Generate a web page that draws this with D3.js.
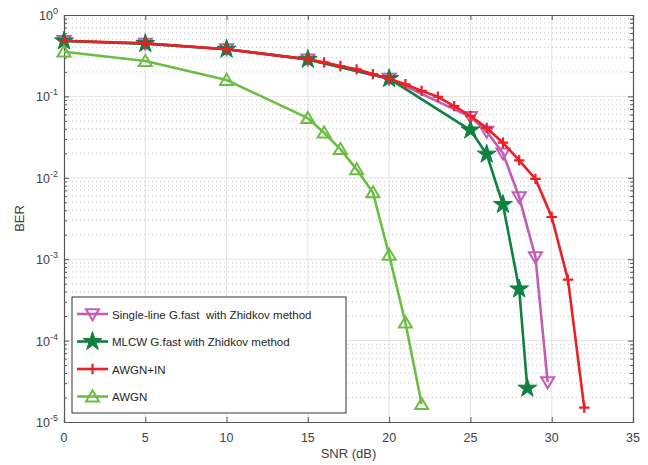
<!DOCTYPE html>
<html>
<head>
<meta charset="utf-8">
<script src="https://cdn.jsdelivr.net/npm/d3@7"></script>
<style>
  body { margin: 0; background: #fff; }
  svg { font-family: "Liberation Sans", Arial, sans-serif; }
</style>
</head>
<body>
<svg id="chart" width="648" height="465"></svg>
<script>
// SNR (dB) and BER values
const snrSingle = [0, 5, 10, 15, 20, 25, 26, 27, 28, 29, 29.75];
const berSingle = [0.48, 0.445, 0.38, 0.285, 0.165, 0.056, 0.037, 0.020, 0.0058, 0.00106, 3.1e-5];

const snrMlcw = [0, 5, 10, 15, 20, 25, 26, 27, 28, 28.5];
const berMlcw = [0.48, 0.445, 0.38, 0.285, 0.165, 0.0386, 0.0195, 0.0047, 4.3e-4, 2.6e-5];

const snrIn = [0, 5, 10, 15, 16, 17, 18, 19, 20, 21, 22, 23, 24, 25, 26, 27, 28, 29, 30, 31, 32];
const berIn = [0.483, 0.449, 0.38, 0.286, 0.262, 0.236, 0.215, 0.188, 0.165, 0.141, 0.117, 0.099, 0.076, 0.0575, 0.041, 0.027, 0.0164, 0.0097, 0.0033, 5.6e-4, 1.5e-5];

const snrAwgn = [0, 5, 10, 15, 16, 17, 18, 19, 20, 21, 22];
const berAwgn = [0.354, 0.272, 0.159, 0.054, 0.0358, 0.0225, 0.0127, 0.0066, 0.00113, 1.66e-4, 1.66e-5];

const xTicks = [0, 5, 10, 15, 20, 25, 30, 35];
const yExps = [0, -1, -2, -3, -4, -5];

const series = [
  { name: 'Single-line G.fast  with Zhidkov method', x: snrSingle, y: berSingle, color: '#c35cb4', marker: 'tridown' },
  { name: 'MLCW G.fast with Zhidkov method', x: snrMlcw, y: berMlcw, color: '#0f8140', marker: 'star' },
  { name: 'AWGN+IN', x: snrIn, y: berIn, color: '#ec1f26', marker: 'plus' },
  { name: 'AWGN', x: snrAwgn, y: berAwgn, color: '#6cbd45', marker: 'triup' }
];

const svg = d3.select('#chart');
const margin = { top: 15, right: 15, bottom: 43, left: 64 };
const width = 648, height = 465;
const innerWidth = width - margin.left - margin.right;
const innerHeight = height - margin.top - margin.bottom;

const x = d3.scaleLinear().domain([0, 35]).range([0, innerWidth]);
const y = d3.scaleLog().domain([1e-5, 1]).range([innerHeight, 0]);

const g = svg.append('g').attr('transform', `translate(${margin.left},${margin.top})`);

// minor horizontal grid (dotted)
const minorVals = [];
yExps.slice(1).forEach(e => {
  for (let k = 2; k <= 9; k++) minorVals.push(k * Math.pow(10, e));
});
const majorVals = yExps.map(e => Math.pow(10, e));

g.append('g').selectAll('line').data(minorVals).enter().append('line')
  .attr('x1', 0).attr('x2', innerWidth)
  .attr('y1', d => y(d)).attr('y2', d => y(d))
  .attr('stroke', '#c8c8c8').attr('stroke-width', 1)
  .attr('stroke-dasharray', '1,3');

// major grid
g.append('g').selectAll('line').data(xTicks.slice(1, -1)).enter().append('line')
  .attr('x1', d => x(d)).attr('x2', d => x(d))
  .attr('y1', 0).attr('y2', innerHeight)
  .attr('stroke', '#e3e3e3').attr('stroke-width', 1);
g.append('g').selectAll('line').data(majorVals.slice(1, -1)).enter().append('line')
  .attr('x1', 0).attr('x2', innerWidth)
  .attr('y1', d => y(d)).attr('y2', d => y(d))
  .attr('stroke', '#e3e3e3').attr('stroke-width', 1);

// axes (ticks only, labels drawn separately)
const axisColor = '#555';
const xAxis = g.append('g').attr('transform', `translate(0,${innerHeight})`)
  .call(d3.axisBottom(x).tickValues(xTicks).tickSize(-5));
const xAxisTop = g.append('g')
  .call(d3.axisTop(x).tickValues(xTicks).tickSize(-5));
const yAxis = g.append('g')
  .call(d3.axisLeft(y).tickValues(minorVals.concat(majorVals)).tickSize(-5));
const yAxisRight = g.append('g').attr('transform', `translate(${innerWidth},0)`)
  .call(d3.axisRight(y).tickValues(minorVals.concat(majorVals)).tickSize(-5));

[xAxis, xAxisTop, yAxis, yAxisRight].forEach(a => {
  a.selectAll('.tick text').remove();
  a.select('.domain').attr('stroke', axisColor).attr('stroke-width', 1.2);
  a.selectAll('.tick line').attr('stroke', axisColor);
});
// minor ticks shorter
[yAxis, yAxisRight].forEach(a => {
  a.selectAll('.tick line').attr('x2', d => (minorVals.includes(d) ? 3 : 5) * (a === yAxis ? 1 : -1));
});

// x tick labels
g.append('g').selectAll('text').data(xTicks).enter().append('text')
  .attr('x', d => x(d)).attr('y', innerHeight + 20)
  .attr('text-anchor', 'middle').attr('fill', '#404040')
  .style('font-size', '12.5px').text(d => d);

// y tick labels with superscript exponents
const yLab = g.append('g').attr('fill', '#404040');
yExps.forEach(e => {
  const t = yLab.append('text')
    .attr('x', -6).attr('y', y(Math.pow(10, e)) + 5)
    .attr('text-anchor', 'end')
    .style('font-size', '12.5px');
  t.append('tspan').text('10');
  t.append('tspan').attr('dy', -6).style('font-size', '9px').text(String(e));
});

// axis titles
svg.append('text').attr('x', margin.left + innerWidth / 2).attr('y', 458)
  .attr('text-anchor', 'middle').attr('fill', '#404040').style('font-size', '13px').text('SNR (dB)');
svg.append('text').attr('transform', `translate(24,${margin.top + innerHeight / 2}) rotate(-90)`)
  .attr('text-anchor', 'middle').attr('fill', '#404040').style('font-size', '13px').text('BER');

// markers
function drawMarker(sel, type, color, s) {
  if (type === 'tridown') {
    sel.append('path').attr('d', `M${-s},${-s * 0.75}L${s},${-s * 0.75}L0,${s * 0.95}Z`)
      .attr('fill', 'none').attr('stroke', color).attr('stroke-width', 2);
  } else if (type === 'triup') {
    sel.append('path').attr('d', `M${-s},${s * 0.75}L${s},${s * 0.75}L0,${-s * 0.95}Z`)
      .attr('fill', 'none').attr('stroke', color).attr('stroke-width', 2);
  } else if (type === 'star') {
    sel.append('path').attr('d', d3.symbol(d3.symbolStar, s * s * 2.6)())
      .attr('fill', color).attr('stroke', color).attr('stroke-width', 1);
  } else if (type === 'plus') {
    sel.append('path').attr('d', `M${-s * 0.8},0L${s * 0.8},0M0,${-s * 0.8}L0,${s * 0.8}`)
      .attr('stroke', color).attr('stroke-width', 2.2);
  }
}

const line = d3.line().x(d => x(d[0])).y(d => y(d[1]));

series.forEach(s => {
  const pts = s.x.map((v, i) => [v, s.y[i]]);
  const sg = g.append('g');
  sg.append('path').attr('d', line(pts))
    .attr('fill', 'none').attr('stroke', s.color).attr('stroke-width', 2.6)
    .attr('stroke-linejoin', 'round');
  pts.forEach(p => {
    const m = sg.append('g').attr('transform', `translate(${x(p[0])},${y(p[1])})`);
    drawMarker(m, s.marker, s.color, 6.5);
  });
});

// legend
const leg = svg.append('g').attr('transform', 'translate(72,297)');
leg.append('rect').attr('width', 274).attr('height', 116)
  .attr('fill', '#fff').attr('stroke', '#333').attr('stroke-width', 1);
series.forEach((s, i) => {
  const yy = 17 + i * 27.5;
  const r = leg.append('g').attr('transform', `translate(0,${yy})`);
  r.append('line').attr('x1', 5).attr('x2', 36).attr('y1', 0).attr('y2', 0)
    .attr('stroke', s.color).attr('stroke-width', 2.6);
  const m = r.append('g').attr('transform', 'translate(20.5,0)');
  drawMarker(m, s.marker, s.color, 6.5);
  r.append('text').attr('x', 40).attr('y', 4.5)
    .attr('fill', '#262626').style('font-size', '11.5px').style('white-space', 'pre')
    .text(s.name);
});
</script>
</body>
</html>
